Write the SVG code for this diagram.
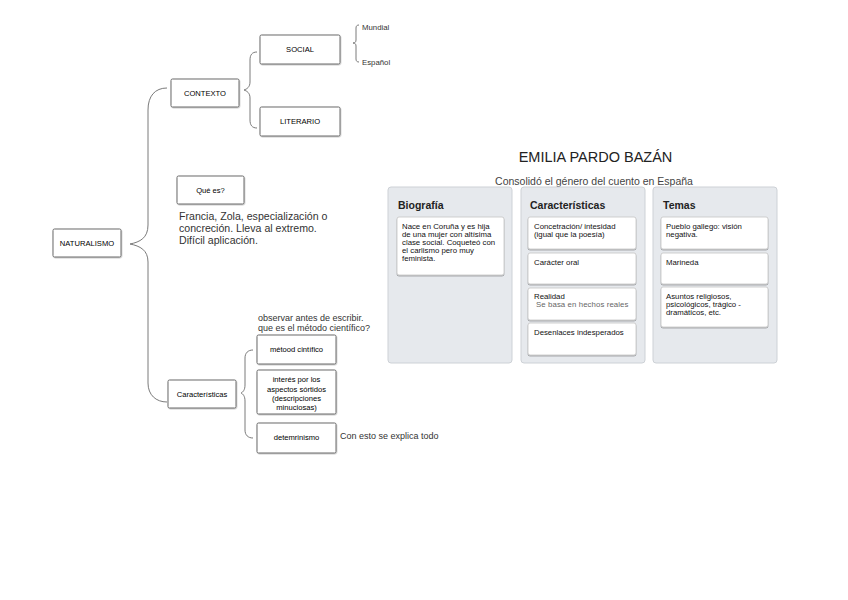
<svg xmlns="http://www.w3.org/2000/svg" width="848" height="600" viewBox="0 0 848 600">
<style>
.box{fill:#fff;stroke:#6b6b6b;stroke-width:1;filter:url(#sh)}
.lbl{font-family:"Liberation Sans",Arial,sans-serif;font-size:7.6px;fill:#000;text-anchor:middle}
.free{font-family:"Liberation Sans",Arial,sans-serif;fill:#333}
.brace{fill:none;stroke:#7a7a7a;stroke-width:1}
.col{fill:#e6e9ed;stroke:#cdd1d6;stroke-width:1}
.card{fill:#fff;stroke:#c4c4c4;stroke-width:0.8;filter:url(#csh)}
.hdr{font-family:"Liberation Sans",Arial,sans-serif;font-size:10.5px;font-weight:bold;fill:#222}
.ct{font-family:"Liberation Sans",Arial,sans-serif;font-size:7.8px;fill:#111}
.sub{font-family:"Liberation Sans",Arial,sans-serif;font-size:7.8px;fill:#666}
</style>
<defs>
<filter id="sh" x="-10%" y="-10%" width="120%" height="130%">
<feDropShadow dx="0.6" dy="0.8" stdDeviation="0.5" flood-color="#000" flood-opacity="0.25"/>
</filter>
<filter id="csh" x="-10%" y="-10%" width="120%" height="130%">
<feDropShadow dx="0" dy="1" stdDeviation="0.6" flood-color="#000" flood-opacity="0.35"/>
</filter>
</defs>
<rect width="848" height="600" fill="#fff"/>

<g id="connectors">
<path class="brace" d="M167,88 C155,88 148,96 148,110 L148,225 C148,238 140,242 130,244 C140,246 148,250 148,262 L148,383 C148,395 156,402 167,402"/>
<path class="brace" d="M257,52 C252,52 250,55 250,60 L250,82 C250,87 247,89 244,90 C247,91 250,93 250,98 L250,120 C250,125 252,128 257,128"/>
<path class="brace" d="M359,25 C357,25 356,26 356,28 L356,40 C356,42 355,43 353,43 C355,43 356,44 356,46 L356,59 C356,61 357,62 359,62"/>
<path class="brace" d="M253,350 C248,350 245,353 245,358 L245,385 C245,390 243,392 241,393 C243,394 245,396 245,401 L245,430 C245,435 248,438 253,438"/>
</g>

<g id="naturalismo"><rect class="box" x="53" y="229" width="68" height="28" rx="1.5"/><text class="lbl" x="87" y="245.7">NATURALISMO</text></g>
<g id="contexto"><rect class="box" x="171" y="79" width="68" height="28" rx="1.5"/><text class="lbl" x="205" y="95.7">CONTEXTO</text></g>
<g id="social"><rect class="box" x="260" y="35" width="80" height="29" rx="1.5"/><text class="lbl" x="300" y="52.2">SOCIAL</text></g>
<g id="literario"><rect class="box" x="260" y="107" width="80" height="29" rx="1.5"/><text class="lbl" x="300" y="124.2">LITERARIO</text></g>
<g id="mundial"><text class="free" x="362" y="29.5" font-size="7.8">Mundial</text></g>
<g id="espanol"><text class="free" x="362" y="64.5" font-size="7.8">Español</text></g>
<g id="quees"><rect class="box" x="177" y="176" width="67" height="28" rx="1.5"/><text class="lbl" x="210.5" y="192.7">Qué es?</text></g>
<g id="francia"><text class="free" font-size="10.6" fill="#333"><tspan x="179" y="220">Francia, Zola, especialización o</tspan><tspan x="179" y="232">concreción. Lleva al extremo.</tspan><tspan x="179" y="244">Difícil aplicación.</tspan></text></g>
<g id="caracteristicas"><rect class="box" x="168" y="380" width="68" height="28" rx="1.5"/><text class="lbl" x="202" y="396.7">Características</text></g>
<g id="observar"><text class="free" font-size="9"><tspan x="258" y="321">observar antes de escribir.</tspan><tspan x="258" y="331">que es el método científico?</tspan></text></g>
<g id="metodo"><rect class="box" x="257" y="335" width="79" height="29" rx="1.5"/><text class="lbl" x="296.5" y="351.7">métood cintífico</text></g>
<g id="interes"><rect class="box" x="257" y="370" width="79" height="44" rx="1.5"/><text class="lbl"><tspan x="296.5" y="382">interés por los</tspan><tspan x="296.5" y="391.5">aspectos sórtidos</tspan><tspan x="296.5" y="401">(descripciones</tspan><tspan x="296.5" y="410">minuciosas)</tspan></text></g>
<g id="determinismo"><rect class="box" x="257" y="423" width="79" height="30" rx="1.5"/><text class="lbl" x="296.5" y="439.5">detemrinismo</text></g>
<g id="conesto"><text class="free" x="340" y="438.5" font-size="9">Con esto se explica todo</text></g>

<g id="emilia">
<text x="595.5" y="162" font-family="'Liberation Sans',Arial,sans-serif" font-size="14.5" fill="#222" text-anchor="middle">EMILIA PARDO BAZÁN</text>
<text x="594" y="184.5" font-family="'Liberation Sans',Arial,sans-serif" font-size="10.5" fill="#444" text-anchor="middle">Consolidó el género del cuento en España</text>
</g>

<g id="col-biografia">
<rect class="col" x="388" y="187" width="124" height="176" rx="3"/>
<text class="hdr" x="398" y="209">Biografía</text>
<g id="card-bio"><rect class="card" x="397" y="217" width="107" height="58" rx="2"/>
<text class="ct"><tspan x="402" y="228.8">Nace en Coruña y es hija</tspan><tspan x="402" y="236.9">de una mujer con altísima</tspan><tspan x="402" y="245">clase social. Coqueteó con</tspan><tspan x="402" y="253.1">el carlismo pero muy</tspan><tspan x="402" y="261.2">feminista.</tspan></text></g>
</g>

<g id="col-caracteristicas">
<rect class="col" x="521" y="187" width="124" height="176" rx="3"/>
<text class="hdr" x="530" y="209">Características</text>
<g id="card-c1"><rect class="card" x="528" y="217" width="108" height="32" rx="2"/>
<text class="ct"><tspan x="534" y="228.8">Concetración/ intesidad</tspan><tspan x="534" y="236.9">(igual que la poesía)</tspan></text></g>
<g id="card-c2"><rect class="card" x="528" y="253" width="108" height="31" rx="2"/>
<text class="ct" x="534" y="264.5">Carácter oral</text></g>
<g id="card-c3"><rect class="card" x="528" y="288" width="108" height="32" rx="2"/>
<text class="ct" x="534" y="299">Realidad</text><text class="sub" x="536" y="307" letter-spacing="0.1">Se basa en hechos reales</text></g>
<g id="card-c4"><rect class="card" x="528" y="323" width="108" height="32" rx="2"/>
<text class="ct" x="534" y="334.5">Desenlaces indesperados</text></g>
</g>

<g id="col-temas">
<rect class="col" x="653" y="187" width="124" height="176" rx="3"/>
<text class="hdr" x="663" y="209">Temas</text>
<g id="card-t1"><rect class="card" x="661" y="217" width="107" height="32" rx="2"/>
<text class="ct"><tspan x="666" y="229.3">Pueblo gallego: visión</tspan><tspan x="666" y="237.3">negativa.</tspan></text></g>
<g id="card-t2"><rect class="card" x="661" y="253" width="107" height="31" rx="2"/>
<text class="ct" x="666" y="264.5">Marineda</text></g>
<g id="card-t3"><rect class="card" x="661" y="287" width="107" height="40" rx="2"/>
<text class="ct"><tspan x="666" y="299">Asuntos religiosos,</tspan><tspan x="666" y="307">psicológicos, trágico -</tspan><tspan x="666" y="315">dramáticos, etc.</tspan></text></g>
</g>
</svg>
